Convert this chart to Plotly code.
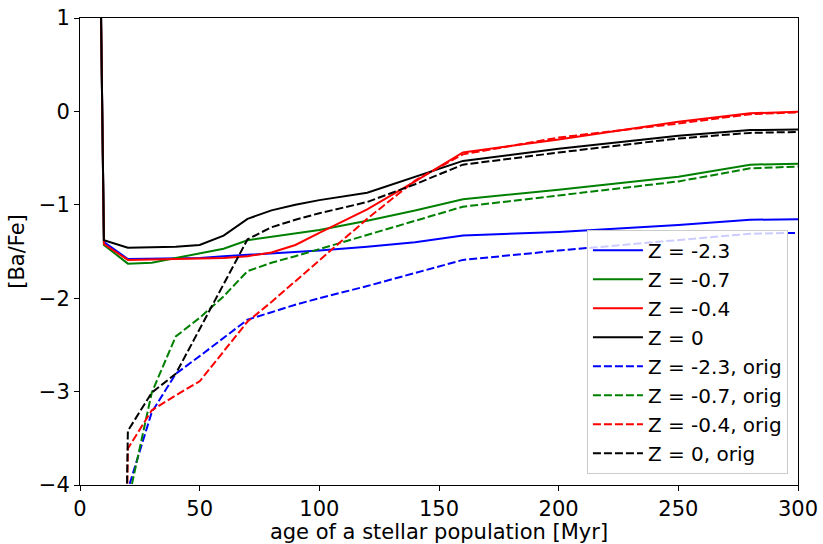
import plotly.graph_objects as go

age = [8, 10, 20, 30, 40, 50, 60, 70, 80, 90, 100, 120, 140, 160, 200, 250, 280, 300]
age_orig = [10, 20, 30, 40, 50, 60, 70, 80, 90, 100, 120, 140, 160, 200, 250, 280, 300]

z_m23 = [2.6, -1.40, -1.58, -1.575, -1.57, -1.57, -1.55, -1.535, -1.525, -1.51, -1.49, -1.45, -1.40, -1.33, -1.29, -1.215, -1.16, -1.155]
z_m07 = [2.6, -1.43, -1.63, -1.62, -1.57, -1.52, -1.47, -1.38, -1.345, -1.31, -1.27, -1.17, -1.06, -0.94, -0.84, -0.70, -0.57, -0.56]
z_m04 = [2.6, -1.42, -1.59, -1.585, -1.58, -1.58, -1.57, -1.55, -1.51, -1.43, -1.30, -1.05, -0.75, -0.44, -0.30, -0.11, -0.02, -0.005]
z_0 = [2.6, -1.38, -1.46, -1.455, -1.45, -1.43, -1.33, -1.15, -1.06, -1.00, -0.95, -0.87, -0.70, -0.53, -0.40, -0.26, -0.20, -0.195]

z_m23_orig = [-20, -4.05, -3.22, -2.81, -2.62, -2.42, -2.23, -2.15, -2.07, -2.00, -1.87, -1.73, -1.59, -1.49, -1.38, -1.31, -1.30]
z_m07_orig = [-20, -4.19, -3.01, -2.41, -2.21, -1.98, -1.71, -1.62, -1.55, -1.475, -1.32, -1.17, -1.02, -0.90, -0.75, -0.61, -0.59]
z_m04_orig = [-20, -3.61, -3.20, -3.04, -2.89, -2.57, -2.25, -2.04, -1.82, -1.60, -1.15, -0.74, -0.46, -0.28, -0.13, -0.03, -0.01]
z_0_orig = [-20, -3.42, -3.01, -2.81, -2.33, -1.85, -1.37, -1.24, -1.16, -1.09, -0.97, -0.78, -0.57, -0.44, -0.29, -0.23, -0.22]

names = ["Z = -2.3", "Z = -0.7", "Z = -0.4", "Z = 0"]
colors = ["#0000ff", "#008000", "#ff0000", "#000000"]
solid = [z_m23, z_m07, z_m04, z_0]
dashed = [z_m23_orig, z_m07_orig, z_m04_orig, z_0_orig]

fig = go.Figure()
for n, c, y in zip(names, colors, solid):
    fig.add_trace(go.Scatter(x=age, y=y, mode="lines", name=n,
                             line=dict(color=c, width=2)))
for n, c, y in zip(names, colors, dashed):
    fig.add_trace(go.Scatter(x=age_orig, y=y, mode="lines", name=n + ", orig",
                             line=dict(color=c, width=2, dash="8px,3px")))

FS = 21
axis_common = dict(showline=True, linecolor="black", linewidth=1, mirror=True,
                   ticks="outside", ticklen=5, tickcolor="black", showgrid=False,
                   zeroline=False, automargin=False, tickfont=dict(size=FS, color="black"))

fig.update_layout(
    width=823, height=544,
    margin=dict(l=80, r=25, t=18, b=59),
    paper_bgcolor="white", plot_bgcolor="white",
    font=dict(family="DejaVu Sans", size=FS, color="black"),
    xaxis=dict(range=[0, 300], tickvals=[0, 50, 100, 150, 200, 250, 300],
               title=dict(text="age of a stellar population [Myr]", font=dict(size=FS), standoff=2),
               **axis_common),
    yaxis=dict(range=[-4, 1], tickvals=[-4, -3, -2, -1, 0, 1],
               title=dict(text="[Ba/Fe]", font=dict(size=FS), standoff=8),
               **axis_common),
    legend=dict(x=0.986, y=0.024, xanchor="right", yanchor="bottom",
                bgcolor="rgba(255,255,255,0.8)", bordercolor="#cccccc", borderwidth=1,
                font=dict(size=20), tracegroupgap=0, itemwidth=50),
    showlegend=True,
)

fig.write_html("out.html")
